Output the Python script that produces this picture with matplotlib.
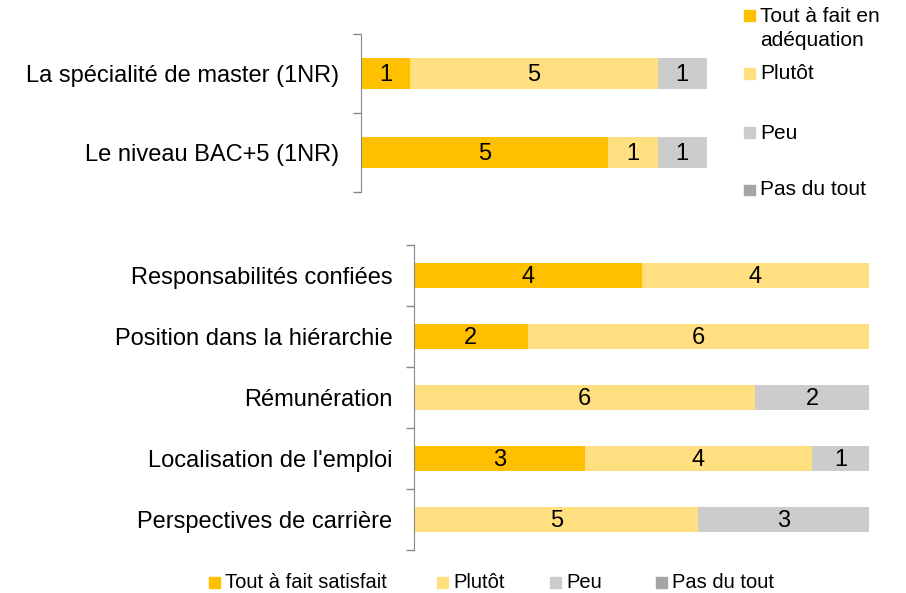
import matplotlib
matplotlib.use("Agg")
import matplotlib.pyplot as plt
from matplotlib.patches import Rectangle
import numpy as np

plt.rcParams['font.family'] = ['Liberation Sans', 'DejaVu Sans']

# ---- data ----
top_categories = ["La spécialité de master (1NR)", "Le niveau BAC+5 (1NR)"]
top_series = ["Tout à fait en\nadéquation", "Plutôt", "Peu", "Pas du tout"]
top_values = {
    "Tout à fait en\nadéquation": [1, 5],
    "Plutôt": [5, 1],
    "Peu": [1, 1],
    "Pas du tout": [0, 0],
}

bot_categories = ["Responsabilités confiées", "Position dans la hiérarchie",
                  "Rémunération", "Localisation de l'emploi",
                  "Perspectives de carrière"]
bot_series = ["Tout à fait satisfait", "Plutôt", "Peu", "Pas du tout"]
bot_values = {
    "Tout à fait satisfait": [4, 2, 0, 3, 0],
    "Plutôt": [4, 6, 6, 4, 5],
    "Peu": [0, 0, 2, 1, 3],
    "Pas du tout": [0, 0, 0, 0, 0],
}

colors = ["#FFC000", "#FFDF7F", "#CCCCCC", "#A5A5A5"]

W, H = 906, 593
fig = plt.figure(figsize=(W / 100, H / 100), dpi=100)


def px_axes(x0, y0, x1, y1):
    return fig.add_axes([x0 / W, 1 - y1 / H, (x1 - x0) / W, (y1 - y0) / H])


def draw_panel(ax, cats, series, values, xmax, labelsize):
    n = len(cats)
    y = np.arange(n)
    left = np.zeros(n)
    for s, c in zip(series, colors):
        v = np.array(values[s], dtype=float)
        ax.barh(y, v, left=left, height=0.4, color=c, edgecolor='none')
        for yi, li, vi in zip(y, left, v):
            if vi > 0:
                ax.text(li + vi / 2, yi + 0.02, f"{int(vi)}", ha='center', va='center',
                        fontsize=17, color='black')
        left += v
    ax.set_xlim(0, xmax)
    ax.set_ylim(n - 0.5, -0.5)
    ax.set_yticks(y)
    ax.set_yticklabels(cats, fontsize=labelsize)
    ax.tick_params(axis='y', which='major', length=0, pad=15.5)
    ax.set_yticks(np.arange(n + 1) - 0.5, minor=True)
    ax.tick_params(axis='y', which='minor', length=6, color='#888888', width=1)
    ax.set_xticks([])
    for sp in ['top', 'right', 'bottom']:
        ax.spines[sp].set_visible(False)
    ax.spines['left'].set_color('#888888')
    ax.patch.set_alpha(0)


ax1 = px_axes(361, 34, 707, 192)
draw_panel(ax1, top_categories, top_series, top_values, 7, 17)

ax2 = px_axes(414, 245, 869, 550)
draw_panel(ax2, bot_categories, bot_series, bot_values, 8, 17)

# ---- top legend (right) ----
leg_top_y = [16, 73.5, 133, 190]
for s, c, yy in zip(top_series, colors, leg_top_y):
    fig.patches.append(Rectangle((744 / W, 1 - (yy + 5) / H), 10.5 / W, 10.5 / H,
                                 transform=fig.transFigure, color=c))
    lines = s.split("\n")
    for k, line in enumerate(lines):
        fig.text(760 / W, 1 - (yy + 25 * k) / H, line, fontsize=15,
                 ha='left', va='center')

# ---- bottom legend ----
leg_bot_x = [209, 437, 550, 656]
for s, c, xx in zip(bot_series, colors, leg_bot_x):
    fig.patches.append(Rectangle((xx / W, 1 - (582.5 + 5) / H), 10.5 / W, 10.5 / H,
                                 transform=fig.transFigure, color=c))
    fig.text((xx + 16) / W, 1 - 582.5 / H, s, fontsize=14.5, ha='left', va='center')

fig.savefig("out.png", dpi=100)
